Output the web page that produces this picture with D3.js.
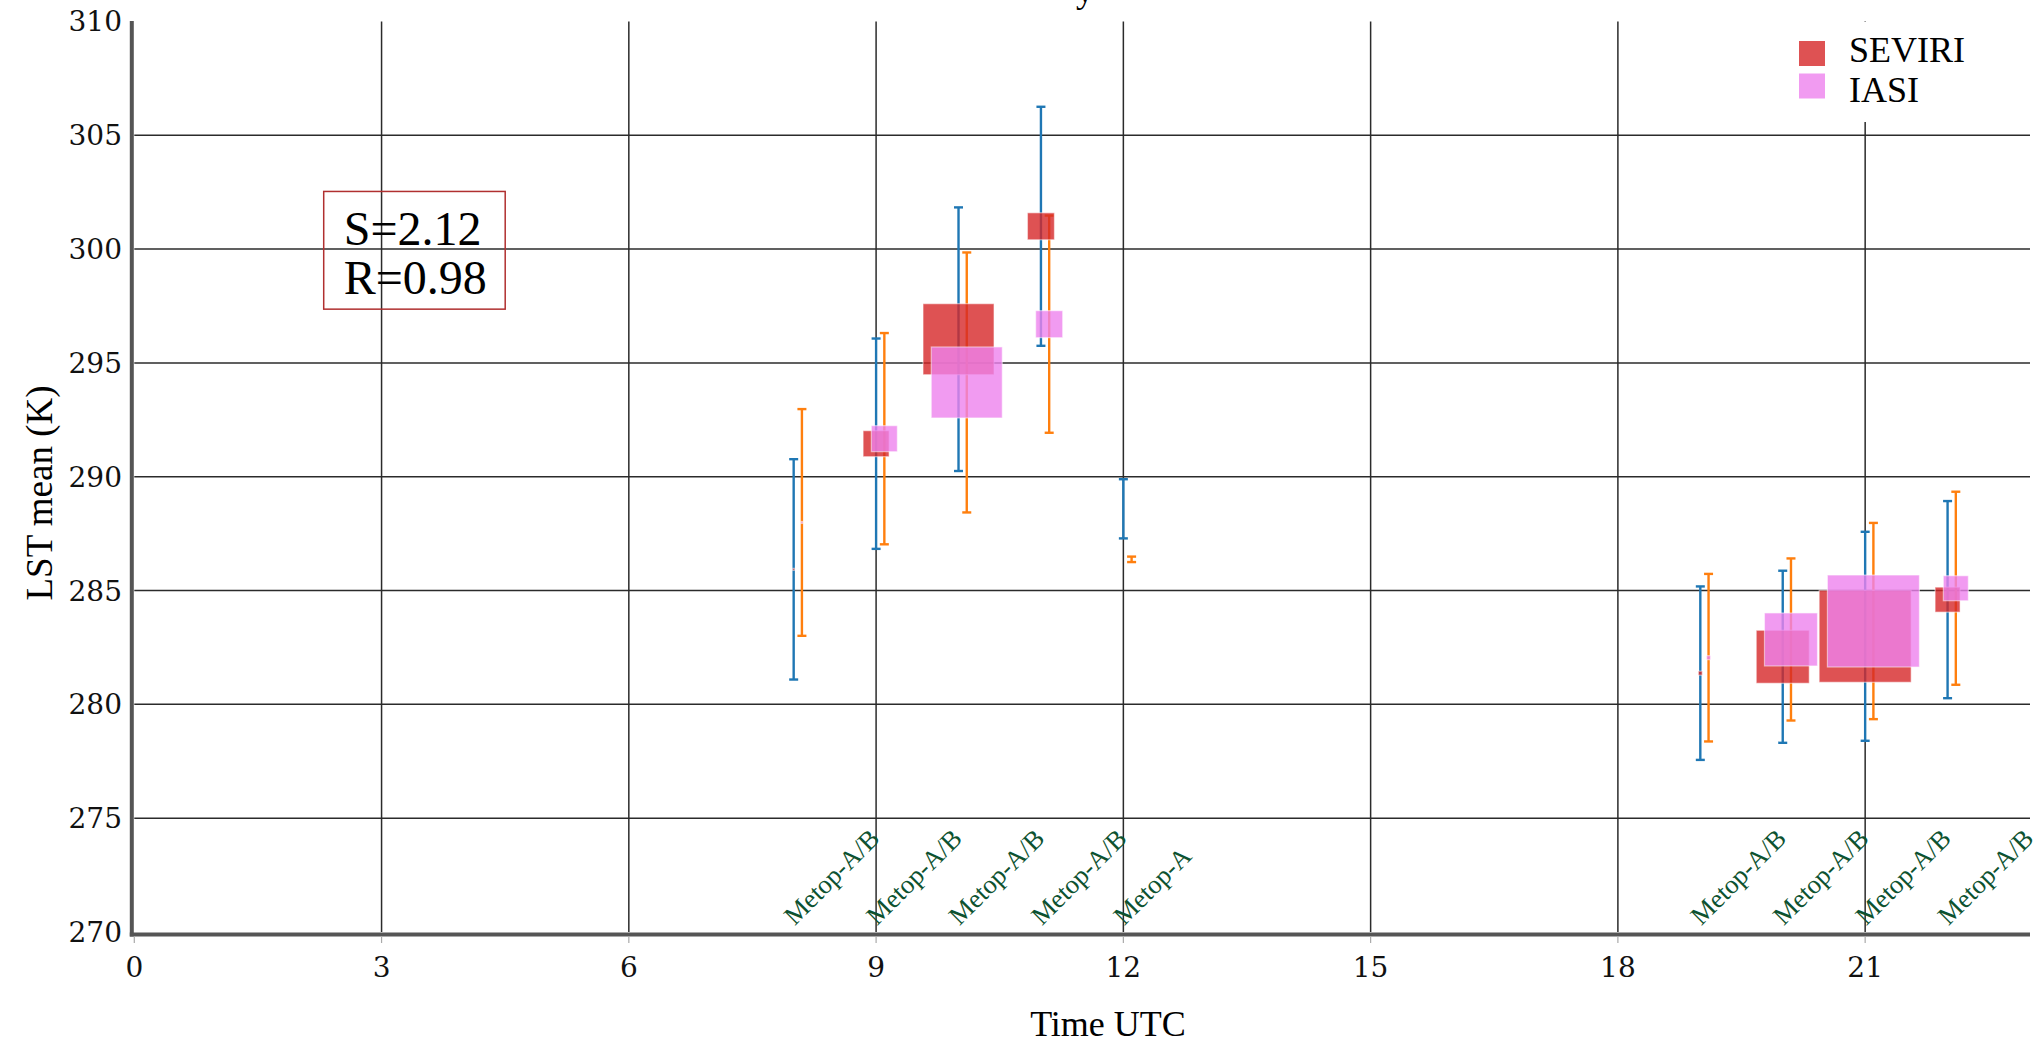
<!DOCTYPE html>
<html>
<head>
<meta charset="utf-8">
<script src="https://cdn.jsdelivr.net/npm/d3@7"></script>
<style>
  html, body { margin: 0; padding: 0; background: #ffffff; }
  svg { display: block; }
</style>
</head>
<body>
<div id="chart"></div>
<script>
  "use strict";

  // Observation times (UTC hour) — IASI drawn slightly right of SEVIRI
  const times = [8, 9, 10, 11, 12, 19, 20, 21, 22];
  const satellites = ["Metop-A/B", "Metop-A/B", "Metop-A/B", "Metop-A/B", "Metop-A",
                      "Metop-A/B", "Metop-A/B", "Metop-A/B", "Metop-A/B"];

  // SEVIRI LST mean and std (K)
  const seviriMean = [285.93, 291.45, 296.04, 301.00, 288.59, 281.37, 282.09, 282.99, 284.60];
  const seviriStd  = [4.84, 4.62, 5.79, 5.25, 1.30, 3.81, 3.78, 4.59, 4.33];

  // IASI LST mean and std (K)
  const iasiMean = [287.99, 291.67, 294.14, 296.70, 286.37, 282.05, 282.85, 283.66, 285.10];
  const iasiStd  = [4.98, 4.64, 5.71, 4.77, 0.12, 3.68, 3.56, 4.31, 4.24];

  // number of matchups (drives the square marker size)
  const matchCount = [2, 26, 71, 27, 0, 4, 53, 92, 25];

  const xTicks = [0, 3, 6, 9, 12, 15, 18, 21];
  const yTicks = [270, 275, 280, 285, 290, 295, 300, 305, 310];

  const statsText = ["S=2.12", "R=0.98"];
  const legendItems = ["SEVIRI", "IASI"];

  const W = 2042, H = 1044;
  const SERIF = "'Liberation Serif', 'Times New Roman', serif";
  const TICKFONT = "'DejaVu Serif', serif";
  const C_SEV = "#d62728", C_IASI = "violet";
  const C_BLUE = "#1f77b4", C_ORANGE = "#ff7f0e";
  const IASI_DX = 0.1;

  const x = d3.scaleLinear().domain([0, 23]).range([134.3, 2030]);
  const y = d3.scaleLinear().domain([270, 310]).range([932, 21.4]);
  const side = d3.scaleLinear().domain([0, 100]).range([0, 100]);

  const svg = d3.select("#chart").append("svg")
    .attr("width", W).attr("height", H);
  svg.append("rect").attr("width", W).attr("height", H).attr("fill", "#ffffff");

  // cropped title (only the descender shows)
  svg.append("text").attr("x", 1085).attr("y", 1.5)
    .attr("text-anchor", "middle").attr("font-family", SERIF)
    .attr("font-size", 36).text("y");

  // grid
  const grid = svg.append("g").attr("stroke", "#2b2b2b").attr("stroke-width", 1.5);
  grid.selectAll("line.h").data(yTicks.filter(v => v > 270 && v < 310)).join("line")
    .attr("class", "h")
    .attr("x1", x(0)).attr("x2", x(23))
    .attr("y1", d => y(d)).attr("y2", d => y(d));
  grid.selectAll("line.v").data(xTicks.filter(v => v > 0)).join("line")
    .attr("class", "v")
    .attr("x1", d => x(d)).attr("x2", d => x(d))
    .attr("y1", y(310)).attr("y2", y(270));

  // legend background hides grid beneath it
  svg.append("rect").attr("x", 1788).attr("y", 22).attr("width", 222).attr("height", 100)
    .attr("fill", "#ffffff");

  // error bars
  function errorBars(means, stds, dx, color) {
    const g = svg.append("g").attr("stroke", color).attr("stroke-width", 2.4);
    times.forEach((t, i) => {
      const cx = x(t + dx);
      const lo = y(means[i] - stds[i]), hi = y(means[i] + stds[i]);
      g.append("line").attr("x1", cx).attr("x2", cx).attr("y1", lo).attr("y2", hi);
      [lo, hi].forEach(cy => {
        g.append("line").attr("x1", cx - 4.5).attr("x2", cx + 4.5)
          .attr("y1", cy).attr("y2", cy);
      });
    });
  }
  errorBars(seviriMean, seviriStd, 0, C_BLUE);
  errorBars(iasiMean, iasiStd, IASI_DX, C_ORANGE);

  // square markers sized by matchups
  function squares(means, dx, color) {
    svg.append("g").selectAll("rect").data(times).join("rect")
      .attr("x", (t, i) => x(t + dx) - side(matchCount[i]) / 2)
      .attr("y", (t, i) => y(means[i]) - side(matchCount[i]) / 2)
      .attr("width", (t, i) => side(matchCount[i]))
      .attr("height", (t, i) => side(matchCount[i]))
      .attr("fill", color).attr("fill-opacity", 0.8)
      .attr("stroke", "#ffffff").attr("stroke-opacity", 0.5).attr("stroke-width", 1.2);
  }
  squares(seviriMean, 0, C_SEV);
  squares(iasiMean, IASI_DX, C_IASI);

  // spines
  svg.append("line").attr("x1", x(0) - 2.5).attr("x2", x(0) - 2.5)
    .attr("y1", y(310) - 0.5).attr("y2", y(270) + 4.5)
    .attr("stroke", "#555").attr("stroke-width", 4);
  svg.append("line").attr("x1", x(0) - 4.5).attr("x2", x(23))
    .attr("y1", y(270) + 2.5).attr("y2", y(270) + 2.5)
    .attr("stroke", "#555").attr("stroke-width", 4);

  // x ticks
  const xt = svg.append("g");
  xt.selectAll("line").data(xTicks).join("line")
    .attr("x1", d => x(d)).attr("x2", d => x(d))
    .attr("y1", y(270) + 4.5).attr("y2", y(270) + 11)
    .attr("stroke", "#aaa").attr("stroke-width", 1.2);
  xt.selectAll("text").data(xTicks).join("text")
    .attr("x", d => x(d)).attr("y", 977)
    .attr("text-anchor", "middle").attr("font-family", TICKFONT)
    .attr("font-size", 28).attr("fill", "#111").text(d => d);

  // y ticks
  svg.append("g").selectAll("text").data(yTicks).join("text")
    .attr("x", 122).attr("y", d => y(d)).attr("dy", "0.36em")
    .attr("text-anchor", "end").attr("font-family", TICKFONT)
    .attr("font-size", 28).attr("fill", "#111").text(d => d);

  // satellite annotations
  svg.append("g").selectAll("text").data(times).join("text")
    .attr("transform", t => `translate(${x(t) + 1},${y(270.25)}) rotate(-45)`)
    .attr("font-family", SERIF).attr("font-size", 26.5).attr("fill", "#0d5230")
    .text((t, i) => satellites[i]);

  // axis titles
  svg.append("text").attr("x", 1108).attr("y", 1036)
    .attr("text-anchor", "middle").attr("font-family", SERIF)
    .attr("font-size", 36).attr("fill", "#000").text("Time UTC");
  svg.append("text").attr("transform", "translate(52,493) rotate(-90)")
    .attr("text-anchor", "middle").attr("font-family", SERIF)
    .attr("font-size", 37).attr("fill", "#000").text("LST mean (K)");

  // statistics box
  const bx = x(2.298), by = y(302.53);
  svg.append("rect").attr("x", bx).attr("y", by)
    .attr("width", x(4.5) - bx).attr("height", y(297.36) - by)
    .attr("fill", "none").attr("stroke", "#b03030").attr("stroke-width", 1.5);
  svg.append("g").selectAll("text").data(statsText).join("text")
    .attr("x", bx + 20).attr("y", (d, i) => by + 54 + i * 49)
    .attr("font-family", SERIF).attr("font-size", 48).attr("fill", "#000")
    .text(d => d);

  // legend
  const legColors = [C_SEV, C_IASI];
  const leg = svg.append("g").attr("transform", "translate(1799,41)");
  legendItems.forEach((name, i) => {
    leg.append("rect").attr("x", 0).attr("y", i * 32.5).attr("width", 26).attr("height", 25)
      .attr("fill", legColors[i]).attr("fill-opacity", 0.8);
    leg.append("text").attr("x", 50).attr("y", 21 + i * 40)
      .attr("font-family", SERIF).attr("font-size", 36).attr("fill", "#000").text(name);
  });
</script>
</body>
</html>
